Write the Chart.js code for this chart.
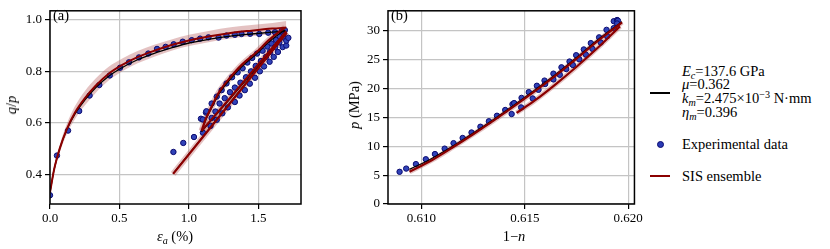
<!DOCTYPE html>
<html>
<head>
<meta charset="utf-8">
<script src="https://cdn.jsdelivr.net/npm/chart.js@4.4.1/dist/chart.umd.min.js"></script>
<style>
  html,body{margin:0;padding:0;background:#fff;}
  #wrap{position:relative;width:830px;height:249px;overflow:hidden;font-family:"Liberation Serif","Times New Roman",serif;color:#000;}
  canvas{position:absolute;top:0;}
  .t{position:absolute;white-space:nowrap;font-size:14.5px;line-height:14px;}
  .t sub{font-size:70%;vertical-align:-0.3em;line-height:0;}
  .t sup{font-size:70%;vertical-align:0.5em;line-height:0;}
  .rot{transform-origin:center center;transform:translate(-50%,-50%) rotate(-90deg);}
  .sw{position:absolute;}
</style>
</head>
<body>
<div id="wrap">
  <canvas id="ca" width="306" height="249" style="left:0px"></canvas>
  <canvas id="cb" width="305" height="249" style="left:340px"></canvas>

  <div class="t" style="left:53px;top:8px;">(a)</div>
  <div class="t" style="left:391px;top:8px;">(b)</div>

  <div class="t rot" style="left:11px;top:105px;"><i>q</i>/<i>p</i></div>
  <div class="t" style="left:175px;top:229px;transform:translateX(-50%);"><i>ε<sub>a</sub></i> (%)</div>
  <div class="t rot" style="left:354px;top:105px;"><i>p</i> (MPa)</div>
  <div class="t" style="left:514px;top:229px;transform:translateX(-50%);">1−<i>n</i></div>

  <div class="sw" style="left:650px;top:92px;width:20px;height:1.5px;background:#000;"></div>
  <div class="t" style="left:682px;top:64px;"><i>E<sub>c</sub></i>=137.6 GPa</div>
  <div class="t" style="left:682px;top:77px;"><i>μ</i>=0.362</div>
  <div class="t" style="left:682px;top:91px;"><i>k<sub>m</sub></i>=2.475×10<sup>−3</sup> N·mm</div>
  <div class="t" style="left:682px;top:105px;"><i>η<sub>m</sub></i>=0.396</div>

  <div style="position:absolute;left:657px;top:141px;width:5px;height:5px;border-radius:50%;background:#2a3ab5;border:1px solid #0b0b70;"></div>
  <div class="t" style="left:682px;top:137px;">Experimental data</div>

  <div class="sw" style="left:650px;top:175px;width:20px;height:2px;background:#8b0000;"></div>
  <div class="t" style="left:682px;top:169px;">SIS ensemble</div>
</div>
<script>
// ---------------- Panel (a) data ----------------
const aXTicks = [0.0, 0.5, 1.0, 1.5];
const aXTickLabels = ["0.0", "0.5", "1.0", "1.5"];
const aYTicks = [0.4, 0.6, 0.8, 1.0];
const aYTickLabels = ["0.4", "0.6", "0.8", "1.0"];

// experimental data (loading + unload/reload cycles)
const aExpX = [0.0,0.05,0.13,0.21,0.285,0.355,0.43,0.504,0.568,0.64,0.707,0.77,0.832,0.89,0.955,1.02,1.08,1.14,1.213,1.27,1.33,1.378,1.44,1.506,1.57,1.619,1.667,1.69,
  0.888,0.959,1.036,1.086,1.1,1.122,1.125,
  1.163,1.2,1.235,1.27,1.31,1.35,1.386,1.42,1.455,1.49,1.53,1.564,1.594,1.626,1.654,
  1.1,1.163,1.19,1.22,1.257,1.295,1.33,1.37,1.41,1.446,1.48,1.518,1.554,1.583,1.62,1.65,1.68,
  1.155,1.2,1.24,1.28,1.33,1.364,1.402,1.438,1.475,1.51,1.54,1.58,1.61,1.64,1.674,1.7,1.70,1.715];
const aExpY = [0.319,0.473,0.57,0.646,0.706,0.747,0.784,0.814,0.835,0.854,0.869,0.887,0.895,0.905,0.915,0.921,0.927,0.932,0.931,0.939,0.942,0.945,0.946,0.945,0.95,0.952,0.956,0.96,
  0.487,0.522,0.545,0.616,0.613,0.64,0.645,
  0.675,0.702,0.727,0.753,0.777,0.796,0.812,0.834,0.852,0.869,0.88,0.896,0.908,0.922,0.935,
  0.562,0.619,0.644,0.675,0.696,0.719,0.737,0.756,0.777,0.8,0.821,0.84,0.856,0.875,0.894,0.912,0.931,
  0.588,0.612,0.637,0.66,0.681,0.706,0.727,0.752,0.775,0.8,0.819,0.837,0.856,0.875,0.894,0.9,0.919,0.93];

// loading curve: ensemble (red), model (black), ensemble band
const aLoadX     = [0,0.03,0.07,0.12,0.18,0.25,0.33,0.42,0.52,0.63,0.75,0.88,1.0,1.15,1.3,1.45,1.6,1.7];
const aLoadRed   = [0.33,0.42,0.50,0.575,0.64,0.695,0.745,0.79,0.825,0.855,0.88,0.903,0.92,0.936,0.949,0.958,0.966,0.97];
const aLoadBlack = [0.33,0.42,0.50,0.572,0.635,0.688,0.737,0.78,0.815,0.845,0.87,0.892,0.91,0.925,0.937,0.945,0.952,0.956];
const aBandUp    = [0.335,0.43,0.515,0.595,0.665,0.723,0.773,0.817,0.85,0.879,0.903,0.925,0.942,0.958,0.971,0.98,0.988,0.995];
const aBandLo    = [0.325,0.41,0.485,0.555,0.615,0.667,0.717,0.763,0.8,0.831,0.857,0.881,0.898,0.914,0.927,0.936,0.944,0.948];

// unload / reload curves
const aC1X = [1.091,1.12,1.151,1.223,1.295,1.379,1.487,1.57,1.655,1.69];
const aC1Y = [0.569,0.615,0.65,0.725,0.775,0.825,0.875,0.919,0.956,0.969];
const aC1K = [0.566,0.61,0.645,0.718,0.768,0.818,0.868,0.912,0.948,0.96];
const aC2X = [1.091,1.3,1.5,1.70];
const aC2Y = [0.569,0.70,0.828,0.955];
const aC2K = [0.566,0.696,0.823,0.949];
const aC3X = [0.886,1.1,1.3,1.5,1.703];
const aC3Y = [0.402,0.545,0.679,0.813,0.95];
const aC3K = [0.404,0.547,0.681,0.815,0.948];

// ---------------- Panel (b) data ----------------
const bXTicks = [0.610, 0.615, 0.620];
const bXTickLabels = ["0.610", "0.615", "0.620"];
const bYTicks = [0, 5, 10, 15, 20, 25, 30];
const bYTickLabels = ["0", "5", "10", "15", "20", "25", "30"];

const bExpX = [0.60894,0.60926,0.60973,0.61021,0.61065,0.61112,0.61155,0.61199,0.61242,0.61285,0.61326,0.61365,0.61405,0.6144,0.61448,0.61484,0.61519,0.61558,0.61595,0.61638,0.61677,0.61716,0.61748,0.61785,0.61819,0.61859,0.61895,0.6193,0.61946,0.6195,
  0.61436,0.61482,0.61538,0.61566,0.61598,0.61638,0.61669,0.617,0.61732,0.61763,0.61795,0.61827,0.61867,0.61898,0.6193,0.61946];
const bExpY = [5.58,6.14,6.92,7.76,8.66,9.6,10.55,11.45,12.4,13.4,14.35,15.3,16.3,17.3,17.5,18.4,19.4,20.5,21.4,22.6,23.7,24.7,25.8,26.8,27.9,28.9,30.2,31.7,31.9,31.8,
  15.6,16.75,18.3,19.8,20.8,21.6,22.4,23.4,24.1,25.1,25.9,26.9,28.0,29.1,30.5,31.3];

const bRed1X = [0.60942,0.6105,0.6115,0.6125,0.6135,0.6145,0.6155,0.6165,0.6175,0.6185,0.6197];
const bRed1Y = [5.6,7.6,9.8,12.1,14.5,17.0,19.6,22.3,25.2,28.2,31.5];
const bRed2X = [0.6146,0.6155,0.6165,0.6175,0.6185,0.6196];
const bRed2Y = [15.8,18.0,20.8,23.8,27.0,30.8];
const bBlkX  = [0.60942,0.6105,0.6115,0.6125,0.6135,0.6145,0.6155,0.6165,0.6175,0.6185,0.6197];
const bBlkY  = [6.0,7.9,10.0,12.3,14.7,17.2,19.8,22.5,25.4,28.4,31.6];

// ---------------- helpers ----------------
const RED = '#8b0000', BAND = 'rgba(185,95,95,0.38)', GRID = '#c4c4c4';
const TICKFONT = {family: '"Liberation Serif","Times New Roman",serif', size: 13};
function pts(xs, ys){ return xs.map((x,i)=>({x:x, y:ys[i]})); }
function line(xs, ys, color, width, order, extra){
  return Object.assign({type:'scatter', data:pts(xs,ys), showLine:true, borderColor:color, backgroundColor:color,
    borderWidth:width, pointRadius:0, pointHoverRadius:0, fill:false, cubicInterpolationMode:'monotone', order:order}, extra||{});
}
function scatter(xs, ys, order){
  return {type:'scatter', data:pts(xs,ys), showLine:false, pointRadius:2.7, pointBorderWidth:1,
    backgroundColor:'#3043b8', borderColor:'#0b0b70', order:order};
}
const frame = {id:'frame', afterDraw(c){
  const a=c.chartArea, g=c.ctx; g.save(); g.strokeStyle='#000'; g.lineWidth=1.5;
  g.strokeRect(a.left, a.top, a.right-a.left, a.bottom-a.top); g.restore(); }};
function axis(min, max, ticks, labels, isX, size){
  return {type:'linear', min:min, max:max,
    afterBuildTicks: s => { s.ticks = ticks.map(v=>({value:v})); },
    afterFit: s => { if (isX) s.height = size; else s.width = size; },
    ticks:{callback:(v,i)=>labels[i], font:TICKFONT, color:'#000', padding: isX?2:3, maxRotation:0, autoSkip:false},
    grid:{color:GRID, lineWidth:1.2, tickColor:'#000', tickLength:5, drawTicks:true},
    border:{display:false}};
}
function opts(xs, ys){
  return {responsive:false, animation:false, events:[],
    layout:{padding:{top:4, right:5, left:0, bottom:0}},
    plugins:{legend:{display:false}, tooltip:{enabled:false}},
    scales:{x:xs, y:ys}};
}

// ---------------- Chart (a) ----------------
new Chart(document.getElementById('ca'), {
  type:'scatter',
  data:{datasets:[
    line(aLoadX, aLoadRed, RED, 2, 1),
    line(aC1X, aC1Y, RED, 2.2, 1),
    line(aC2X, aC2Y, RED, 2.2, 1),
    line(aC3X, aC3Y, RED, 2.2, 1),
    line(aLoadX, aLoadBlack, '#000', 1.3, 2),
    line(aC1X, aC1K, '#000', 1.2, 2),
    line(aC2X, aC2K, '#000', 1.2, 2),
    line(aC3X, aC3K, '#000', 1.2, 2),
    scatter(aExpX, aExpY, 3),
    line(aC1X, aC1Y, BAND, 6, 4),
    line(aC2X, aC2Y, BAND, 6, 4),
    line(aC3X, aC3Y, BAND, 6, 4),
    line(aLoadX, aBandUp, 'rgba(0,0,0,0)', 0, 5, {fill:'+1', backgroundColor:BAND}),
    line(aLoadX, aBandLo, 'rgba(0,0,0,0)', 0, 6)
  ]},
  options: opts(axis(0, 1.806, aXTicks, aXTickLabels, true, 45),
                axis(0.285, 1.035, aYTicks, aYTickLabels, false, 50)),
  plugins:[frame]
});

// ---------------- Chart (b) ----------------
new Chart(document.getElementById('cb'), {
  type:'scatter',
  data:{datasets:[
    line(bRed1X, bRed1Y, RED, 2.2, 1),
    line(bRed2X, bRed2Y, RED, 2.2, 1),
    line(bBlkX, bBlkY, '#000', 1.2, 2),
    scatter(bExpX, bExpY, 3),
    line(bRed1X, bRed1Y, BAND, 5, 4),
    line(bRed2X, bRed2Y, BAND, 5, 4)
  ]},
  options: opts(axis(0.60838, 0.6203, bXTicks, bXTickLabels, true, 45),
                axis(0, 33.5, bYTicks, bYTickLabels, false, 48)),
  plugins:[frame]
});
</script>
</body>
</html>
